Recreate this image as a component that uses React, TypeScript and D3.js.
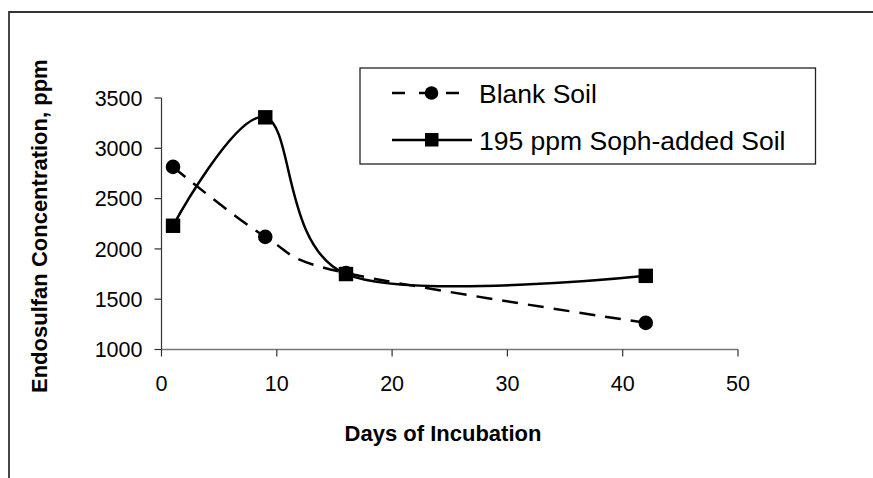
import React from "react";
import * as d3 from "d3";

const days = [1, 9, 16, 42];
const blankSoil = [2815, 2120, 1760, 1265];
const sophSoil = [2230, 3308, 1750, 1732];
const xTicks = [0, 10, 20, 30, 40, 50];
const yTicks = [1000, 1500, 2000, 2500, 3000, 3500];
const seriesNames = ["Blank Soil", "195 ppm Soph-added Soil"];
const xTitle = "Days of Incubation";
const yTitle = "Endosulfan Concentration, ppm";

const W = 873;
const H = 478;
const FONT = "Arial, 'Liberation Sans', Helvetica, sans-serif";

export default function App() {
  const x = d3.scaleLinear().domain([0, 50]).range([161.5, 738]);
  const y = d3.scaleLinear().domain([1000, 3500]).range([349.5, 98]);
  const line = d3
    .line<number>()
    .x((_, i) => x(days[i]))
    .y((d) => y(d))
    .curve(d3.curveCardinal.tension(0));

  const x0 = x(0);
  const y0 = y(1000);

  return (
    <svg
      width={W}
      height={H}
      style={{ position: "absolute", left: 0, top: 0, background: "#fff" }}
    >
      {/* outer frame (clipped at right & bottom) */}
      <path d={`M9,${H} L9,12 L${W},12`} fill="none" stroke="#333" strokeWidth={1.8} />

      {/* axes */}
      <line x1={x0} x2={x(50)} y1={y0} y2={y0} stroke="#777" strokeWidth={1.5} />
      <line x1={x0} x2={x0} y1={y(3500)} y2={y0} stroke="#333" strokeWidth={1.2} />
      {yTicks.map((t) => (
        <g key={"y" + t}>
          <line x1={x0 - 7} x2={x0} y1={y(t)} y2={y(t)} stroke="#333" strokeWidth={1.2} />
          <text
            x={x0 - 19}
            y={y(t)}
            dy="0.36em"
            textAnchor="end"
            fontFamily={FONT}
            fontSize={21.5}
            fill="#000"
          >
            {t}
          </text>
        </g>
      ))}
      {xTicks.map((t) => (
        <g key={"x" + t}>
          <line x1={x(t)} x2={x(t)} y1={y0} y2={y0 + 7} stroke="#333" strokeWidth={1.2} />
          <text
            x={x(t)}
            y={391}
            textAnchor="middle"
            fontFamily={FONT}
            fontSize={21.5}
            fill="#000"
          >
            {t}
          </text>
        </g>
      ))}

      {/* axis titles */}
      <text
        x={443}
        y={441}
        textAnchor="middle"
        fontFamily={FONT}
        fontWeight="bold"
        fontSize={22}
      >
        {xTitle}
      </text>
      <text
        transform={`translate(46.5,393) rotate(-90)`}
        textAnchor="start"
        fontFamily={FONT}
        fontWeight="bold"
        fontSize={22}
      >
        {yTitle}
      </text>

      {/* series lines */}
      <path
        d={line(blankSoil) || ""}
        fill="none"
        stroke="#000"
        strokeWidth={2.5}
        strokeDasharray="16,10"
      />
      <path d={line(sophSoil) || ""} fill="none" stroke="#000" strokeWidth={2.5} />

      {/* markers */}
      {blankSoil.map((v, i) => (
        <circle key={"c" + i} cx={x(days[i])} cy={y(v)} r={7.3} fill="#000" />
      ))}
      {sophSoil.map((v, i) => (
        <rect
          key={"s" + i}
          x={x(days[i]) - 7.2}
          y={y(v) - 7.2}
          width={14.4}
          height={14.4}
          fill="#000"
        />
      ))}

      {/* legend */}
      <rect x={360} y={68} width={455.5} height={96} fill="#fff" stroke="#222" strokeWidth={1.3} />
      <line
        x1={392}
        x2={466}
        y1={93}
        y2={93}
        stroke="#000"
        strokeWidth={2.5}
        strokeDasharray="13,14"
      />
      <circle cx={431.5} cy={93} r={6.8} fill="#000" />
      <text x={479} y={93} dy="0.36em" fontFamily={FONT} fontSize={26.5}>
        {seriesNames[0]}
      </text>
      <line x1={392} x2={472} y1={140} y2={140} stroke="#000" strokeWidth={2.5} />
      <rect x={425} y={133} width={13.5} height={13.5} fill="#000" />
      <text x={479} y={140} dy="0.36em" fontFamily={FONT} fontSize={26.5}>
        {seriesNames[1]}
      </text>
    </svg>
  );
}
